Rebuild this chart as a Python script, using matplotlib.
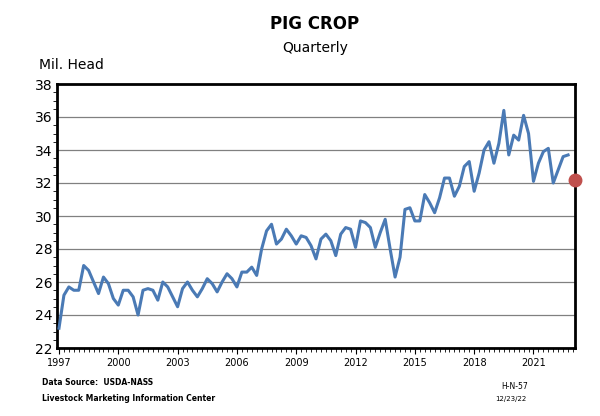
import matplotlib
matplotlib.use('Agg')
import numpy as np
import matplotlib.pyplot as plt
from matplotlib.ticker import MultipleLocator

# Mil. head, trimestriel 1997T1 - 2022T4
pig_crop = [
    23.2, 25.2, 25.7, 25.5,
    25.5, 27.0, 26.7, 26.0,
    25.3, 26.3, 25.9, 25.0,
    24.6, 25.5, 25.5, 25.1,
    24.0, 25.5, 25.6, 25.5,
    24.9, 26.0, 25.7, 25.1,
    24.5, 25.6, 26.0, 25.5,
    25.1, 25.6, 26.2, 25.9,
    25.4, 26.0, 26.5, 26.2,
    25.7, 26.6, 26.6, 26.9,
    26.4, 28.0, 29.1, 29.5,
    28.3, 28.6, 29.2, 28.8,
    28.3, 28.8, 28.7, 28.2,
    27.4, 28.6, 28.9, 28.5,
    27.6, 28.9, 29.3, 29.2,
    28.1, 29.7, 29.6, 29.3,
    28.1, 29.0, 29.8, 28.0,
    26.3, 27.5, 30.4, 30.5,
    29.7, 29.7, 31.3, 30.8,
    30.2, 31.1, 32.3, 32.3,
    31.2, 31.8, 33.0, 33.3,
    31.5, 32.6, 34.0, 34.5,
    33.2, 34.4, 36.4, 33.7,
    34.9, 34.6, 36.1, 35.0,
    32.1, 33.2, 33.9, 34.1,
    32.0, 32.8, 33.6, 33.7,
]
start_year = 1997
forecast_x = 2023.1
forecast_y = 32.2
year_ticks = list(range(1997, 2022, 3))

x = start_year + np.arange(len(pig_crop)) / 4

fig = plt.figure(figsize=(6, 4.16), dpi=100)
ax = fig.add_axes([57/600, 68/416, 518/600, 264/416])
ax.plot(x, pig_crop, color='#4a7ab5', lw=2.2, zorder=3)
ax.plot([forecast_x], [forecast_y], 'o', color='#c0504d', ms=9, zorder=4, clip_on=False)

ax.set_xlim(1996.9, forecast_x)
ax.set_ylim(22, 38)
ax.set_xticks(year_ticks)
ax.xaxis.set_minor_locator(MultipleLocator(0.25))
ax.yaxis.set_major_locator(MultipleLocator(2))
ax.yaxis.set_minor_locator(MultipleLocator(0.5))
ax.grid(axis='y', color='#808080', lw=0.9)
ax.set_axisbelow(True)
for s in ax.spines.values():
    s.set_linewidth(2)
ax.tick_params(axis='y', labelsize=10, direction='in', length=0)
ax.tick_params(axis='y', which='minor', direction='out', length=3)
ax.tick_params(axis='x', labelsize=7, direction='out', length=4)
ax.tick_params(axis='x', which='minor', direction='out', length=3)

fig.text(0.525, 0.93, 'PIG CROP', ha='center', fontsize=12, fontweight='bold')
fig.text(0.525, 0.875, 'Quarterly', ha='center', fontsize=10)
fig.text(0.065, 0.835, 'Mil. Head', fontsize=10)
fig.text(0.07, 0.075, 'Data Source:  USDA-NASS', fontsize=5.5, fontweight='bold')
fig.text(0.07, 0.035, 'Livestock Marketing Information Center', fontsize=5.5, fontweight='bold')
fig.text(0.835, 0.065, 'H-N-57', fontsize=5.5)
fig.text(0.825, 0.035, '12/23/22', fontsize=5)

plt.savefig('out.png')
